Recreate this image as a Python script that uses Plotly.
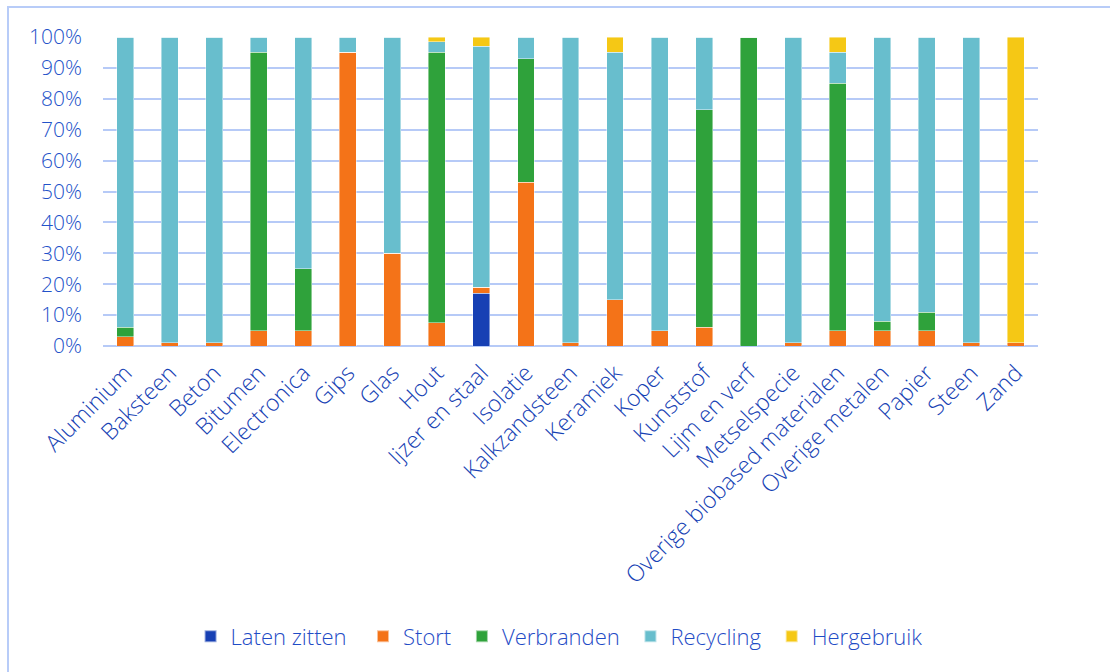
import plotly.graph_objects as go

categories = [
    "Aluminium", "Baksteen", "Beton", "Bitumen", "Electronica", "Gips", "Glas",
    "Hout", "Ijzer en staal", "Isolatie", "Kalkzandsteen", "Keramiek", "Koper",
    "Kunststof", "Lijm en verf", "Metselspecie", "Overige biobased materialen",
    "Overige metalen", "Papier", "Steen", "Zand",
]

# shares per end-of-life route, in percent
laten_zitten = [0, 0, 0, 0, 0, 0, 0, 0, 17, 0, 0, 0, 0, 0, 0, 0, 0, 0, 0, 0, 0]
stort        = [3, 1, 1, 5, 5, 95, 30, 7.5, 2, 53, 1, 15, 5, 6, 0, 1, 5, 5, 5, 1, 1]
verbranden   = [3, 0, 0, 90, 20, 0, 0, 87.5, 0, 40, 0, 0, 0, 70.5, 100, 0, 80, 3, 6, 0, 0]
recycling    = [94, 99, 99, 5, 75, 5, 70, 3.5, 78, 7, 99, 80, 95, 23.5, 0, 99, 10, 92, 89, 99, 0]
hergebruik   = [0, 0, 0, 0, 0, 0, 0, 1.5, 3, 0, 0, 5, 0, 0, 0, 0, 5, 0, 0, 0, 99]

series = [
    ("Laten zitten", laten_zitten, "#1740B4"),
    ("Stort", stort, "#F47318"),
    ("Verbranden", verbranden, "#2FA23B"),
    ("Recycling", recycling, "#68BECD"),
    ("Hergebruik", hergebruik, "#F5C815"),
]

y_ticks = list(range(0, 101, 10))
y_tick_labels = [f"{v}%" for v in y_ticks]

TEXT = "#1F4CC6"
GRID = "#B6CAF7"
FONT = "Open Sans"
NBSP = "\u00a0"

fig = go.Figure()
for i, (name, vals, color) in enumerate(series):
    pad = NBSP * (2 if i == 0 else 1)
    fig.add_trace(go.Bar(
        name=name + pad,
        x=categories,
        y=vals,
        marker=dict(color=color, line=dict(color="rgba(255,255,255,0.55)", width=0.8)),
    ))

fig.update_layout(
    barmode="stack",
    bargap=0.62,
    width=1110,
    height=672,
    margin=dict(l=103, r=72, t=37, b=326),
    paper_bgcolor="white",
    plot_bgcolor="white",
    font=dict(family=FONT, color=TEXT, size=20, weight=300),
    showlegend=True,
    legend=dict(
        orientation="h",
        x=0.491, xanchor="center",
        y=-0.94, yanchor="middle",
        font=dict(size=22, color=TEXT, family=FONT, weight=300),
        traceorder="normal",
        itemsizing="constant",
    ),
    xaxis=dict(
        tickangle=-45,
        tickfont=dict(size=23, color="#1642B4", family=FONT, weight=300),
        showgrid=False,
        showline=False,
        ticks="",
        ticklabelstandoff=8,
    ),
    yaxis=dict(
        range=[0, 100],
        tickvals=y_ticks,
        ticktext=y_tick_labels,
        tickfont=dict(size=21, color="#2352C9", family=FONT, weight=300),
        showgrid=True,
        gridcolor=GRID,
        gridwidth=1.5,
        zeroline=True,
        zerolinecolor=GRID,
        zerolinewidth=2,
        ticks="",
        ticklabelstandoff=20,
    ),
    shapes=[dict(
        type="rect", xref="paper", yref="paper",
        x0=-0.1016, x1=1.08, y0=-1.07, y1=1.097,
        line=dict(color="#B8CCF8", width=2),
        fillcolor="rgba(0,0,0,0)",
        layer="below",
    )],
)

fig.write_html("out.html")
